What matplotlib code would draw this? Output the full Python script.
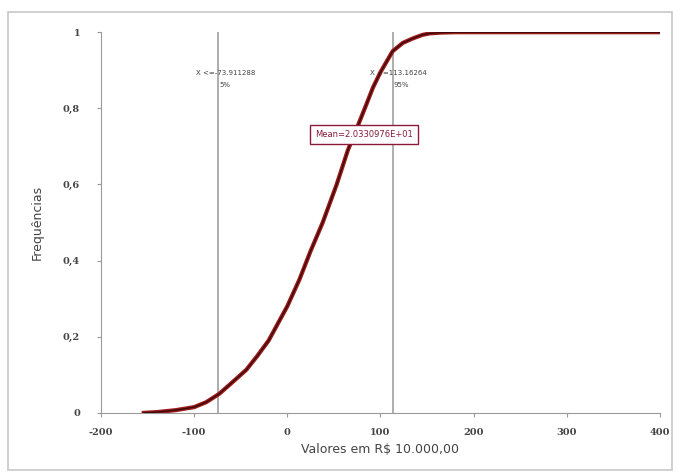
import matplotlib.pyplot as plt
from matplotlib.patches import Rectangle

plt.rcParams['axes.unicode_minus'] = False

# Valores (distribuição acumulada)
valores = [-154, -140, -120, -100, -87, -73, -60, -44, -32, -20, -10, 0, 13,
           25, 38, 53, 65, 75, 84, 92, 100, 113, 124, 135, 145, 153, 165,
           180, 200, 300, 400]
frequencias = [0.0, 0.002, 0.007, 0.015, 0.028, 0.05, 0.078, 0.113, 0.15,
               0.19, 0.235, 0.28, 0.35, 0.425, 0.50, 0.60, 0.69, 0.75, 0.805,
               0.855, 0.895, 0.95, 0.972, 0.984, 0.993, 0.997, 0.999, 1.0,
               1.0, 1.0, 1.0]

# Percentis marcados
percentil_5 = -73.911288
percentil_95 = 113.16264
rotulo_5 = ['X <=-73.911288', '5%']
rotulo_95 = ['X <=113.16264', '95%']
rotulo_media = 'Mean=2.0330976E+01'


def gerar_grafico():
    fig = plt.figure(figsize=(6.77, 4.74), dpi=100)
    fig.patches.append(Rectangle((0.012, 0.008), 0.98, 0.966,
                                 transform=fig.transFigure, fill=False,
                                 edgecolor='#c8c8c8', linewidth=1.2))
    ax = fig.add_axes([0.149, 0.129, 0.826, 0.803])

    cinza = '#a0a0a0'
    ax.axvline(percentil_5, color=cinza, linewidth=1.2, zorder=1)
    ax.axvline(percentil_95, color=cinza, linewidth=1.2, zorder=1)

    ax.plot(valores, frequencias, color='#9b1b1b', linewidth=3.0, zorder=3,
            solid_joinstyle='round')
    ax.plot(valores, frequencias, color='#3a0808', linewidth=1.0, zorder=4,
            solid_joinstyle='round')

    ax.set_xlim(-200, 400)
    ax.set_ylim(0, 1)
    ax.set_xticks([-200, -100, 0, 100, 200, 300, 400])
    ax.set_yticks([0, 0.2, 0.4, 0.6, 0.8, 1])
    ax.set_yticklabels(['0', '0,2', '0,4', '0,6', '0,8', '1'])

    for lado in ['top', 'right']:
        ax.spines[lado].set_visible(False)
    for lado in ['left', 'bottom']:
        ax.spines[lado].set_color('#9a9a9a')
    ax.tick_params(colors='#9a9a9a', labelcolor='#444444', labelsize=7,
                   length=3, width=0.8)
    for rot in ax.get_xticklabels() + ax.get_yticklabels():
        rot.set_fontfamily('DejaVu Serif')
        rot.set_fontweight('bold')
    ax.tick_params(axis='x', pad=8)
    ax.tick_params(axis='y', pad=12)

    ax.set_xlabel('Valores em R$ 10.000,00', fontsize=9, color='#444444')
    ax.set_ylabel('Frequências', fontsize=9, color='#444444', labelpad=14)

    # Rótulos dos percentis
    ax.text(percentil_5 - 24, 0.888, rotulo_5[0], fontsize=5, color='#444444')
    ax.text(percentil_5 + 1, 0.855, rotulo_5[1], fontsize=5, color='#444444')
    ax.text(percentil_95 - 24, 0.888, rotulo_95[0], fontsize=5, color='#444444')
    ax.text(percentil_95 + 1, 0.855, rotulo_95[1], fontsize=5, color='#444444')

    ax.text(82, 0.732, rotulo_media, fontsize=6, color='#8b1a3a',
            ha='center', va='center', zorder=6,
            bbox=dict(boxstyle='square,pad=0.6', facecolor='white',
                      edgecolor='#8b1a3a', linewidth=1.0))

    plt.savefig('out.png', dpi=100)


def main():
    gerar_grafico()


if __name__ == "__main__":
    main()
